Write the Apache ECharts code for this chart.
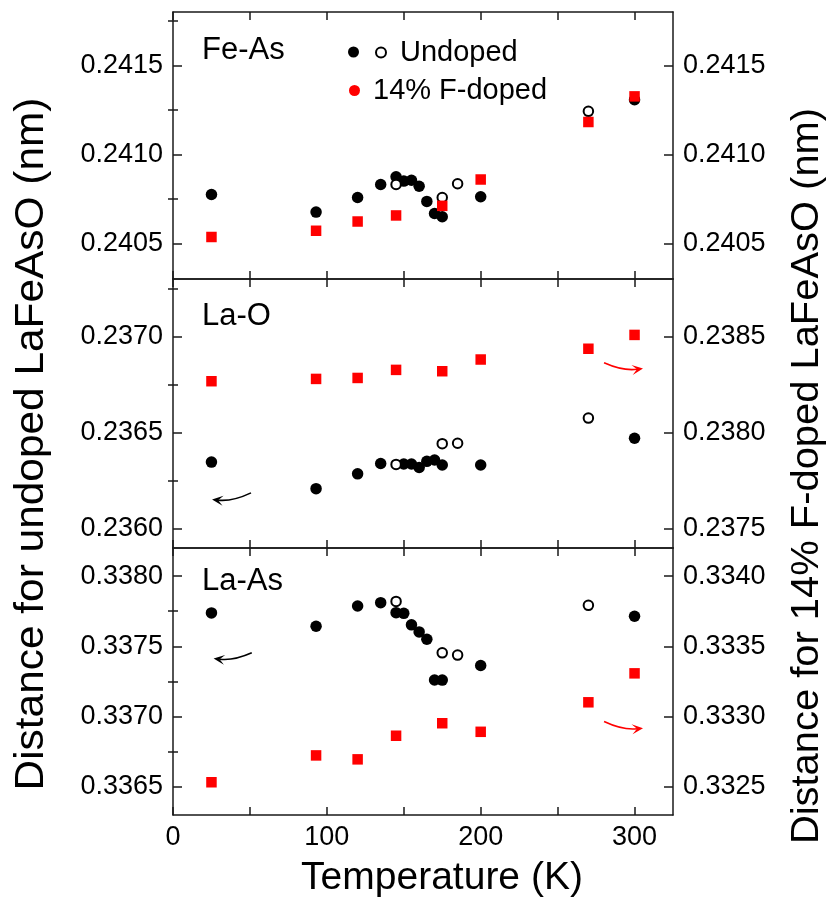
<!DOCTYPE html>
<html><head><meta charset="utf-8">
<script src="https://cdn.jsdelivr.net/npm/echarts@6/dist/echarts.min.js"></script>
<style>html,body{margin:0;padding:0;background:#fff}#c{width:837px;height:899px}</style>
</head><body><div id="c"></div>
<script>
// ---------------- data (Temperature K, distance nm) ----------------
const tempTicks = [0, 50, 100, 150, 200, 250, 300];
const tempLabels = [0, 100, 200, 300];

const feAsUndopedFilled = [[25,0.240775],[93,0.240676],[120,0.240758],[135,0.240831],[145,0.240874],[150,0.240850],[155,0.240855],[160,0.240821],[165,0.240736],[170,0.240668],[175,0.240650],[200,0.240762],[300,0.241307]];
const feAsUndopedOpen = [[145,0.240831],[175,0.240758],[185,0.240835],[270,0.241242]];
const feAsDoped = [[25,0.240536],[93,0.240571],[120,0.240623],[145,0.240657],[175,0.240711],[200,0.240859],[270,0.241182],[300,0.241326]];

const laOUndopedFilled = [[25,0.236347],[93,0.236209],[120,0.236286],[135,0.236340],[150,0.236337],[155,0.236337],[160,0.236319],[165,0.236351],[170,0.236358],[175,0.236332],[200,0.236332],[300,0.236471]];
const laOUndopedOpen = [[145,0.236335],[175,0.236443],[185,0.236445],[270,0.236576]];
const laODoped = [[25,0.238268],[93,0.238280],[120,0.238285],[145,0.238327],[175,0.238320],[200,0.238381],[270,0.238437],[300,0.238509]];

const laAsUndopedFilled = [[25,0.337738],[93,0.337643],[120,0.337787],[135,0.337811],[145,0.337740],[150,0.337735],[155,0.337653],[160,0.337603],[165,0.337551],[170,0.337261],[175,0.337260],[200,0.337364],[300,0.337714]];
const laAsUndopedOpen = [[145,0.337820],[175,0.337454],[185,0.337438],[270,0.337792]];
const laAsDoped = [[25,0.332533],[93,0.332724],[120,0.332696],[145,0.332864],[175,0.332953],[200,0.332892],[270,0.333102],[300,0.333308]];

// axis ranges and tick values
const feAsRange = [0.2403, 0.2418];
const feAsMajor = [0.2405, 0.2410, 0.2415];
const feAsMinor = [0.24075, 0.24125, 0.24175];
const laOLeftRange = [0.2359, 0.2373];
const laOLeftMajor = [0.2360, 0.2365, 0.2370];
const laOLeftMinor = [0.23625, 0.23675, 0.23725];
const laORightRange = [0.2374, 0.2388];
const laORightMajor = [0.2375, 0.2380, 0.2385];
const laORightMinor = [0.23775, 0.23825, 0.23875];
const laAsLeftRange = [0.3363, 0.3382];
const laAsLeftMajor = [0.3365, 0.3370, 0.3375, 0.3380];
const laAsLeftMinor = [0.33675, 0.33725, 0.33775];
const laAsRightRange = [0.3323, 0.3342];
const laAsRightMajor = [0.3325, 0.3330, 0.3335, 0.3340];
const laAsRightMinor = [0.33275, 0.33325, 0.33375];

// annotation arrows (data units): [x1,y1,x2,y2], head at (x2,y2)
const laOBlackArrow = [50.7, 0.236187, 25.4, 0.236152];
const laORedArrow = [280.2, 0.238364, 305.5, 0.238334];
const laAsBlackArrow = [51.2, 0.337454, 26.4, 0.337414];
const laAsRedArrow = [280.2, 0.332965, 305.5, 0.332918];

// ---------------- chart ----------------
const FONT = '"Liberation Sans", Arial, Helvetica, sans-serif';
const AX = '#1a1a1a';
const RED = '#f00';
const TICK_FS = 27;

function xAx(i, pos, showLabels) {
  return {
    type: 'value', gridIndex: i, position: pos, min: 0, max: 325,
    axisLine: { show: true, onZero: false, lineStyle: { color: AX, width: 1.5 } },
    axisTick: { show: true, inside: true, length: 8, customValues: tempTicks, lineStyle: { color: AX, width: 1.5 } },
    axisLabel: { show: showLabels, customValues: tempLabels, margin: 9, fontSize: TICK_FS, color: '#000', fontFamily: FONT },
    splitLine: { show: false }
  };
}
function yMajor(i, pos, range, major, showLabels) {
  return {
    type: 'value', gridIndex: i, position: pos, min: range[0], max: range[1],
    axisLine: { show: true, onZero: false, lineStyle: { color: AX, width: 1.5 } },
    axisTick: { show: true, inside: true, length: 9, customValues: major, lineStyle: { color: AX, width: 1.5 } },
    axisLabel: { show: showLabels, customValues: major, margin: 10, fontSize: TICK_FS, color: '#000', fontFamily: FONT,
      formatter: v => Number(v).toFixed(4) },
    splitLine: { show: false }
  };
}
function yMinor(i, pos, range, minor) {
  return {
    type: 'value', gridIndex: i, position: pos, min: range[0], max: range[1],
    axisLine: { show: false },
    axisTick: { show: true, inside: true, length: 5, customValues: minor, lineStyle: { color: AX, width: 1.5 } },
    axisLabel: { show: false },
    splitLine: { show: false }
  };
}
function arrowSeries(xi, yi, a, color) {
  return {
    type: 'custom', xAxisIndex: xi, yAxisIndex: yi, silent: true, z: 6,
    data: [a], encode: { x: [0, 2], y: [1, 3] },
    renderItem: function (params, api) {
      const p1 = api.coord([api.value(0), api.value(1)]);
      const p2 = api.coord([api.value(2), api.value(3)]);
      const dx = p2[0] - p1[0], dy = p2[1] - p1[1];
      const len = Math.hypot(dx, dy);
      let nx = -dy / len, ny = dx / len;
      if (ny < 0) { nx = -nx; ny = -ny; }
      const bend = 0.14 * len;
      const cx = (p1[0] + p2[0]) / 2 + nx * bend, cy = (p1[1] + p2[1]) / 2 + ny * bend;
      const tx = p2[0] - cx, ty = p2[1] - cy, tl = Math.hypot(tx, ty);
      const ux = tx / tl, uy = ty / tl;
      const hl = 11, hw = 5;
      const bx = p2[0] - ux * hl, by = p2[1] - uy * hl;
      const qx = p2[0] - ux * hl * 0.55, qy = p2[1] - uy * hl * 0.55;
      return {
        type: 'group', children: [
          { type: 'bezierCurve', shape: { x1: p1[0], y1: p1[1], x2: qx, y2: qy, cpx1: cx, cpy1: cy },
            style: { stroke: color, fill: null, lineWidth: 1.6 } },
          { type: 'polygon', shape: { points: [[p2[0], p2[1]], [bx - uy * hw, by + ux * hw], [qx, qy], [bx + uy * hw, by - ux * hw]] },
            style: { fill: color } }
        ]
      };
    }
  };
}
function panelSeries(i, filled, open, doped, dopedAxis) {
  return [
    { name: 'Undoped', type: 'scatter', xAxisIndex: 2 * i, yAxisIndex: 4 * i, data: filled,
      symbol: 'circle', symbolSize: 11.5, itemStyle: { color: '#000', opacity: 1 }, z: 3 },
    { name: 'Undoped (open)', type: 'scatter', xAxisIndex: 2 * i, yAxisIndex: 4 * i, data: open,
      symbol: 'circle', symbolSize: 9.5, itemStyle: { color: '#fff', borderColor: '#000', borderWidth: 2, opacity: 1 }, z: 4 },
    { name: '14% F-doped', type: 'scatter', xAxisIndex: 2 * i, yAxisIndex: dopedAxis, data: doped,
      symbol: 'rect', symbolSize: 10.5, itemStyle: { color: RED, opacity: 1 }, z: 5 }
  ];
}

const panelTitle = (txt, top) => ({ text: txt, left: 202, top: top, padding: 0,
  textStyle: { fontSize: 31, fontWeight: 'normal', color: '#000', fontFamily: FONT } });

const option = {
  animation: false,
  backgroundColor: '#fff',
  title: [panelTitle('Fe-As', 35), panelTitle('La-O', 301), panelTitle('La-As', 566)],
  legend: [
    { data: [{ name: 'Undoped', icon: 'circle' }], left: 348, top: 46.5, padding: 0, itemWidth: 11, itemHeight: 11,
      formatter: () => '', itemStyle: { color: '#000', opacity: 1 }, selectedMode: false,
      textStyle: { fontSize: 29, fontFamily: FONT } },
    { data: [{ name: 'Undoped (open)', icon: 'circle' }], left: 375, top: 38, padding: 0, itemWidth: 10, itemHeight: 10,
      formatter: () => 'Undoped', itemStyle: { color: '#fff', borderColor: '#000', borderWidth: 2, opacity: 1 }, selectedMode: false,
      textStyle: { fontSize: 29, color: '#000', fontFamily: FONT, padding: [0, 0, 0, 9] } },
    { data: [{ name: '14% F-doped', icon: 'circle' }], left: 349, top: 76, padding: 0, itemWidth: 11, itemHeight: 11,
      itemStyle: { color: RED, opacity: 1 }, selectedMode: false,
      textStyle: { fontSize: 29, color: '#000', fontFamily: FONT, padding: [0, 0, 0, 8] } }
  ],
  grid: [
    { left: 173, right: 164, top: 12, height: 267, outerBoundsMode: 'none' },
    { left: 173, right: 164, top: 279, height: 269, outerBoundsMode: 'none' },
    { left: 173, right: 164, top: 548, height: 267, outerBoundsMode: 'none' }
  ],
  xAxis: [xAx(0, 'bottom', false), xAx(0, 'top', false), xAx(1, 'bottom', false), xAx(1, 'top', false), xAx(2, 'bottom', true), xAx(2, 'top', false)],
  yAxis: [
    yMajor(0, 'left', feAsRange, feAsMajor, true), yMinor(0, 'left', feAsRange, feAsMinor),
    yMajor(0, 'right', feAsRange, feAsMajor, true), yMinor(0, 'right', feAsRange, feAsMinor),
    yMajor(1, 'left', laOLeftRange, laOLeftMajor, true), yMinor(1, 'left', laOLeftRange, laOLeftMinor),
    yMajor(1, 'right', laORightRange, laORightMajor, true), yMinor(1, 'right', laORightRange, laORightMinor),
    yMajor(2, 'left', laAsLeftRange, laAsLeftMajor, true), yMinor(2, 'left', laAsLeftRange, laAsLeftMinor),
    yMajor(2, 'right', laAsRightRange, laAsRightMajor, true), yMinor(2, 'right', laAsRightRange, laAsRightMinor)
  ],
  series: [
    ...panelSeries(0, feAsUndopedFilled, feAsUndopedOpen, feAsDoped, 0),
    ...panelSeries(1, laOUndopedFilled, laOUndopedOpen, laODoped, 6),
    ...panelSeries(2, laAsUndopedFilled, laAsUndopedOpen, laAsDoped, 10),
    arrowSeries(2, 4, laOBlackArrow, '#000'),
    arrowSeries(2, 6, laORedArrow, RED),
    arrowSeries(4, 8, laAsBlackArrow, '#000'),
    arrowSeries(4, 10, laAsRedArrow, RED)
  ],
  graphic: [
    { type: 'text', x: 32, y: 444, rotation: Math.PI / 2, scaleX: 1.06,
      style: { text: 'Distance for undoped LaFeAsO (nm)', fontSize: 40, fontFamily: FONT, fill: '#000', align: 'center', verticalAlign: 'middle' } },
    { type: 'text', x: 808, y: 476, rotation: Math.PI / 2, scaleX: 1.05,
      style: { text: 'Distance for 14% F-doped LaFeAsO (nm)', fontSize: 38, fontFamily: FONT, fill: '#000', align: 'center', verticalAlign: 'middle' } },
    { type: 'text', x: 442, y: 878,
      style: { text: 'Temperature (K)', fontSize: 39, fontFamily: FONT, fill: '#000', align: 'center', verticalAlign: 'middle' } }
  ]
};
const chart = echarts.init(document.getElementById('c'));
chart.setOption(option);
</script>
</body></html>
